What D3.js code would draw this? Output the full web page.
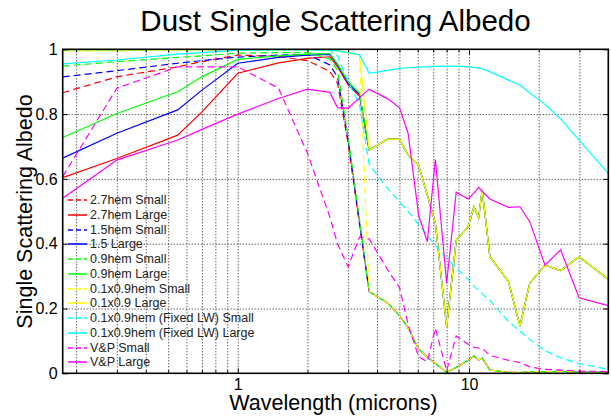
<!DOCTYPE html>
<html>
<head>
<meta charset="utf-8">
<script src="https://cdn.jsdelivr.net/npm/d3@7/dist/d3.min.js"></script>
<style>
  body { margin: 0; background: #fff; }
  svg { font-family: "Liberation Sans", Arial, Helvetica, sans-serif; }
</style>
</head>
<body>
<div id="chart"></div>
<script>
// Wavelength grid (microns) shared by every curve
var wavelengths = [0.175, 0.3, 0.55, 0.7, 1.0, 1.5, 2.0, 2.5, 2.7, 3.0, 3.36, 3.7,
  4.45, 5.0, 5.45, 6.05, 6.6, 7.15, 8.0, 8.8, 9.9, 10.5, 11.0, 11.4, 12.3,
  14.8, 16.6, 18.3, 21.3, 24.9, 29.9, 40];

// Long-wave part (4.45 - 40 microns), identical for the hem mixtures
var largeTail = [0.723, 0.722, 0.674, 0.643, 0.55, 0.463, 0.144, 0.411, 0.452, 0.514,
  0.48, 0.566, 0.36, 0.283, 0.146, 0.278, 0.334, 0.317, 0.36, 0.29];
var smallTail = [0.217, 0.178, 0.14, 0.075, 0.05, 0.03, 0.003, 0.018, 0.04, 0.053,
  0.041, 0.047, 0.01, 0.003, 0.002, 0.005, 0.005, 0.006, 0.004, 0.003];

// Short-wave part (0.175 - 3.7 microns)
var hem27Small = [0.866, 0.915, 0.946, 0.962, 0.982, 0.978, 0.965, 0.932, 0.895, 0.71, 0.46, 0.252];
var hem27Large = [0.604, 0.663, 0.735, 0.807, 0.926, 0.958, 0.972, 0.977, 0.946, 0.89, 0.855, 0.689];
var hem15Small = [0.915, 0.934, 0.957, 0.965, 0.976, 0.982, 0.984, 0.952, 0.915, 0.72, 0.465, 0.252];
var hem15Large = [0.664, 0.741, 0.813, 0.874, 0.957, 0.975, 0.982, 0.984, 0.952, 0.895, 0.86, 0.689];
var hem09Small = [0.948, 0.962, 0.975, 0.98, 0.988, 0.99, 0.99, 0.97, 0.935, 0.73, 0.475, 0.252];
var hem09Large = [0.728, 0.802, 0.869, 0.915, 0.969, 0.98, 0.985, 0.987, 0.955, 0.9, 0.865, 0.689];
var mix01Small = [0.998, 0.998, 0.999, 0.999, 0.999, 0.999, 0.999, 0.997, 0.995, 0.99, 0.98, 0.252];
var mix01Large = [0.995, 0.996, 0.997, 0.998, 0.998, 0.998, 0.998, 0.997, 0.995, 0.99, 0.983, 0.689];

// Fixed LW and V&P curves over the whole grid
var fixedSmall = [0.998, 0.998, 0.999, 0.999, 0.999, 0.999, 0.999, 0.997, 0.98, 0.9, 0.83, 0.645,
  0.57, 0.53, 0.5, 0.46, 0.425, 0.395, 0.355, 0.325, 0.29, 0.27, 0.255, 0.245, 0.225,
  0.16, 0.13, 0.105, 0.07, 0.048, 0.03, 0.012];
var fixedLarge = [0.955, 0.967, 0.985, 0.99, 0.997, 0.998, 0.998, 0.998, 0.995, 0.99, 0.983, 0.926,
  0.935, 0.941, 0.943, 0.945, 0.946, 0.947, 0.948, 0.948, 0.946, 0.944, 0.942, 0.94, 0.931,
  0.905, 0.89, 0.865, 0.83, 0.785, 0.72, 0.617];
var vpSmall = [0.607, 0.88, 0.946, 0.946, 0.946, 0.88, 0.68, 0.483, 0.4, 0.329, 0.42, 0.415,
  0.319, 0.265, 0.152, 0.051, 0.036, 0.139, 0.008, 0.115, 0.09, 0.08, 0.078, 0.077, 0.055,
  0.04, 0.033, 0.02, 0.012, 0.01, 0.007, 0.005];
var vpLarge = [0.54, 0.658, 0.72, 0.753, 0.8, 0.848, 0.877, 0.867, 0.82, 0.818, 0.85, 0.877,
  0.847, 0.82, 0.741, 0.489, 0.406, 0.66, 0.278, 0.559, 0.538, 0.556, 0.574, 0.562, 0.538,
  0.512, 0.514, 0.468, 0.334, 0.381, 0.233, 0.209];

var seriesNames = ["2.7hem Small", "2.7hem Large", "1.5hem Small", "1.5 Large",
  "0.9hem Small", "0.9hem Large", "0.1x0.9hem Small", "0.1x0.9 Large",
  "0.1x0.9hem (Fixed LW) Small", "0.1x0.9hem (Fixed LW) Large", "V&P Small", "V&P Large"];
var seriesValues = [
  hem27Small.concat(smallTail), hem27Large.concat(largeTail),
  hem15Small.concat(smallTail), hem15Large.concat(largeTail),
  hem09Small.concat(smallTail), hem09Large.concat(largeTail),
  mix01Small.concat(smallTail), mix01Large.concat(largeTail),
  fixedSmall, fixedLarge, vpSmall, vpLarge];
var seriesColors = ["#ff0000", "#ff0000", "#0000ff", "#0000ff", "#00ff00", "#00ff00",
  "#ffff00", "#ffff00", "#00ffff", "#00ffff", "#ff00ff", "#ff00ff"];
var seriesDashed = [true, false, true, false, true, false, true, false, true, false, true, false];

var yTicks = [0, 0.2, 0.4, 0.6, 0.8, 1];
var xLabelTicks = [1, 10];
var xMinorTicks = [0.2, 0.3, 0.4, 0.5, 0.6, 0.7, 0.8, 0.9, 2, 3, 4, 5, 6, 7, 8, 9, 20, 30];

// SVG size and plot box
var width = 611;
var height = 416;
var plotLeft = 62.7, plotRight = 608.3, plotTop = 49.3, plotBottom = 373.3;

var svg = d3.select("#chart")
    .append("svg")
    .attr("width", width)
    .attr("height", height);

var xScale = d3.scaleLog()
    .domain([0.175, 40])
    .range([plotLeft, plotRight]);

var yScale = d3.scaleLinear()
    .domain([0, 1])
    .range([plotBottom, plotTop]);

// Dotted grid
svg.append("g")
    .attr("class", "xGrid")
    .attr("transform", `translate(0, ${plotBottom})`)
    .call(d3.axisBottom(xScale)
        .tickValues(xMinorTicks.concat(xLabelTicks))
        .tickSize(-(plotBottom - plotTop))
        .tickFormat(""));

svg.append("g")
    .attr("class", "yGrid")
    .attr("transform", `translate(${plotLeft}, 0)`)
    .call(d3.axisLeft(yScale)
        .tickValues([0.2, 0.4, 0.6, 0.8])
        .tickSize(-(plotRight - plotLeft))
        .tickFormat(""));

svg.selectAll(".xGrid .domain, .yGrid .domain").remove();
svg.selectAll(".xGrid line, .yGrid line")
    .attr("stroke", "#222")
    .attr("stroke-width", 1)
    .attr("stroke-dasharray", "1,2");

// Curves
var line = d3.line()
    .x(function(d, i) { return xScale(wavelengths[i]); })
    .y(function(d) { return yScale(d); });

svg.append("clipPath")
    .attr("id", "plotClip")
    .append("rect")
    .attr("x", plotLeft)
    .attr("y", plotTop - 1)
    .attr("width", plotRight - plotLeft)
    .attr("height", plotBottom - plotTop + 2);

var curves = svg.append("g").attr("clip-path", "url(#plotClip)");
seriesValues.forEach(function(vals, i) {
    curves.append("path")
        .datum(vals)
        .attr("d", line)
        .attr("fill", "none")
        .attr("stroke", seriesColors[i])
        .attr("stroke-width", 1.2)
        .attr("stroke-dasharray", seriesDashed[i] ? "7,4" : null);
});

// Axes with inward ticks
svg.append("g")
    .attr("class", "xAxis")
    .attr("transform", `translate(0, ${plotBottom})`)
    .call(d3.axisBottom(xScale)
        .tickValues(xLabelTicks)
        .tickFormat(d3.format("~g"))
        .tickSize(-5)
        .tickPadding(5));

svg.append("g")
    .attr("class", "xAxis")
    .attr("transform", `translate(0, ${plotBottom})`)
    .call(d3.axisBottom(xScale)
        .tickValues(xMinorTicks)
        .tickFormat("")
        .tickSize(-3));

svg.append("g")
    .attr("class", "xAxis")
    .attr("transform", `translate(0, ${plotTop})`)
    .call(d3.axisTop(xScale)
        .tickValues(xLabelTicks)
        .tickFormat("")
        .tickSize(-5));

svg.append("g")
    .attr("class", "xAxis")
    .attr("transform", `translate(0, ${plotTop})`)
    .call(d3.axisTop(xScale)
        .tickValues(xMinorTicks)
        .tickFormat("")
        .tickSize(-3));

svg.append("g")
    .attr("class", "yAxis")
    .attr("transform", `translate(${plotLeft}, 0)`)
    .call(d3.axisLeft(yScale)
        .tickValues(yTicks)
        .tickFormat(d3.format("~g"))
        .tickSize(-5)
        .tickPadding(5));

svg.append("g")
    .attr("class", "yAxis")
    .attr("transform", `translate(${plotRight}, 0)`)
    .call(d3.axisRight(yScale)
        .tickValues(yTicks)
        .tickFormat("")
        .tickSize(-5));

svg.selectAll(".xAxis .domain, .yAxis .domain").remove();
svg.selectAll(".xAxis text, .yAxis text")
    .attr("font-size", "16px")
    .attr("font-family", "Liberation Sans, Arial, sans-serif")
    .attr("fill", "#000");

// Box around the plot
svg.append("rect")
    .attr("x", plotLeft)
    .attr("y", plotTop)
    .attr("width", plotRight - plotLeft)
    .attr("height", plotBottom - plotTop)
    .attr("fill", "none")
    .attr("stroke", "#000")
    .attr("stroke-width", 1.6);

// Title and axis labels
svg.append("text")
    .attr("x", (plotLeft + plotRight) / 2)
    .attr("y", 31)
    .attr("text-anchor", "middle")
    .attr("font-size", "29.5px")
    .text("Dust Single Scattering Albedo");

svg.append("text")
    .attr("x", 333.5)
    .attr("y", 410)
    .attr("text-anchor", "middle")
    .attr("font-size", "21.5px")
    .text("Wavelength (microns)");

svg.append("text")
    .attr("transform", "translate(32, 211.5) rotate(-90)")
    .attr("text-anchor", "middle")
    .attr("font-size", "21.5px")
    .text("Single Scattering Albedo");

// Legend (no box, grid shows through)
var legend = svg.append("g").attr("class", "legend");
seriesNames.forEach(function(name, i) {
    var ly = Math.round(200 + i * 14.75);
    legend.append("line")
        .attr("x1", 68)
        .attr("x2", 87)
        .attr("y1", ly)
        .attr("y2", ly)
        .attr("stroke", seriesColors[i])
        .attr("stroke-width", 1.5)
        .attr("stroke-dasharray", seriesDashed[i] ? "5,3" : null);
    legend.append("text")
        .attr("x", 90)
        .attr("y", ly + 4.3)
        .attr("font-size", "12.5px")
        .attr("fill", "#222")
        .text(name);
});
</script>
</body>
</html>
